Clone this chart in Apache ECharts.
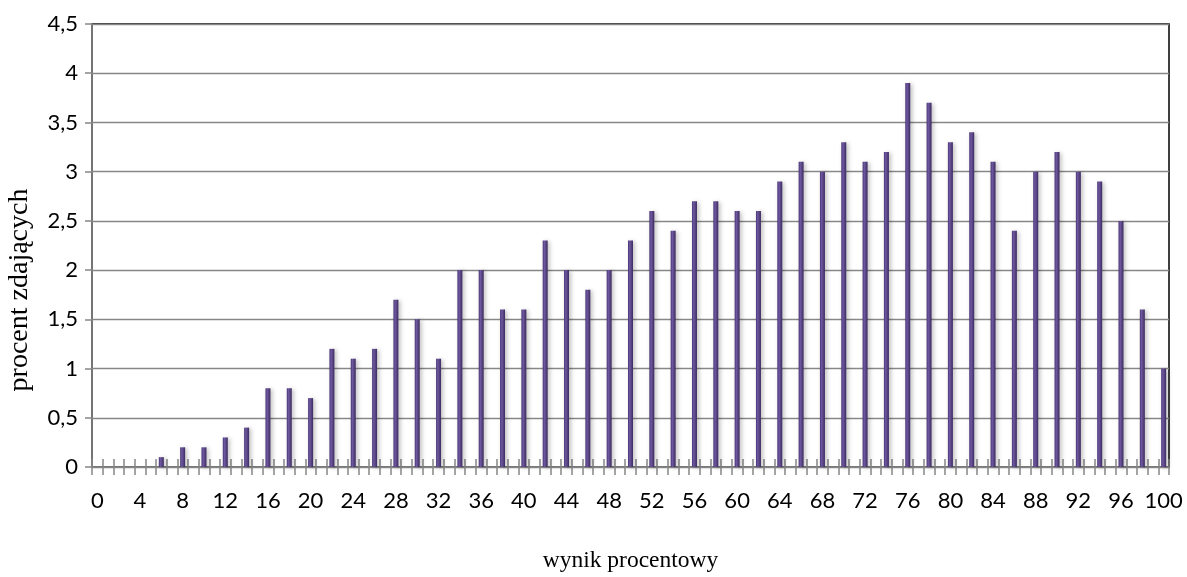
<!DOCTYPE html>
<html>
<head>
<meta charset="utf-8">
<script src="https://cdn.jsdelivr.net/npm/echarts@6/dist/echarts.min.js"></script>
<style>
html,body{margin:0;padding:0;background:#fff;}
#chart{width:1187px;height:577px;}
</style>
</head>
<body>
<div id="chart"></div>
<script>
// categories: percentage score 0..100
const categories = [];
for (let i = 0; i <= 100; i++) categories.push(String(i));

// values (only even scores have bars)
const evenScores = [0,2,4,6,8,10,12,14,16,18,20,22,24,26,28,30,32,34,36,38,40,42,44,46,48,50,52,54,56,58,60,62,64,66,68,70,72,74,76,78,80,82,84,86,88,90,92,94,96,98,100];
const evenValues = [0,0,0,0.1,0.2,0.2,0.3,0.4,0.8,0.8,0.7,1.2,1.1,1.2,1.7,1.5,1.1,2.0,2.0,1.6,1.6,2.3,2.0,1.8,2.0,2.3,2.6,2.4,2.7,2.7,2.6,2.6,2.9,3.1,3.0,3.3,3.1,3.2,3.9,3.7,3.3,3.4,3.1,2.4,3.0,3.2,3.0,2.9,2.5,1.6,1.0];

const yTicks = [0,0.5,1,1.5,2,2.5,3,3.5,4,4.5];
const xTitle = 'wynik procentowy';
const yTitle = 'procent zdających';

const seriesValues = categories.map(c => {
  const idx = evenScores.indexOf(Number(c));
  return idx >= 0 && evenValues[idx] > 0 ? evenValues[idx] : null;
});

const chart = echarts.init(document.getElementById('chart'));
const axisGray = '#878787';
chart.setOption({
  animation: false,
  grid: {
    left: 92, right: 18, top: 24, bottom: 110,
    outerBoundsMode: 'none',
    containLabel: false,
    show: true, borderColor: '#000', borderWidth: 1.5, backgroundColor: 'transparent'
  },
  graphic: [{
    type: 'text',
    x: 20, y: 290,
    rotation: Math.PI / 2,
    style: {
      text: yTitle,
      fill: '#000',
      font: '28px "Liberation Serif", "DejaVu Serif", serif',
      align: 'center',
      verticalAlign: 'middle'
    }
  }],
  xAxis: [{
    type: 'category',
    data: categories,
    boundaryGap: true,
    axisLine: { lineStyle: { color: axisGray, width: 1.5 } },
    axisTick: { show: true, interval: 0, length: 8, inside: false, lineStyle: { color: axisGray, width: 1.5 } },
    axisLabel: {
      interval: 3, margin: 23, color: '#000',
      fontFamily: 'Lato, "Open Sans", sans-serif', fontSize: 22
    },
    name: xTitle,
    nameLocation: 'middle',
    nameGap: 82,
    nameTextStyle: { fontFamily: '"Liberation Serif", "DejaVu Serif", serif', fontSize: 23.5, color: '#000' }
  }, {
    type: 'category',
    data: categories,
    position: 'bottom',
    boundaryGap: true,
    axisLine: { show: false },
    axisTick: { show: true, interval: 0, length: 8, inside: true, lineStyle: { color: axisGray, width: 1.5 } },
    axisLabel: { show: false }
  }],
  yAxis: {
    type: 'value',
    min: 0, max: 4.5, interval: 0.5,
    axisLine: { show: true, lineStyle: { color: axisGray, width: 1.5 } },
    axisTick: { show: true, length: 7, lineStyle: { color: axisGray, width: 1.5 } },
    splitLine: { show: true, lineStyle: { color: axisGray, width: 1.3 } },
    axisLabel: {
      margin: 14, color: '#000',
      fontFamily: 'Lato, "Open Sans", sans-serif', fontSize: 22,
      formatter: v => String(v).replace('.', ',')
    }
  },
  series: [{
    type: 'bar',
    xAxisIndex: 0,
    data: seriesValues,
    barWidth: 5,
    itemStyle: {
      color: new echarts.graphic.LinearGradient(0, 0, 1, 0, [
        { offset: 0, color: '#4a3573' },
        { offset: 0.35, color: '#6e58a0' },
        { offset: 1, color: '#3d2b5f' }
      ]),
      shadowBlur: 4,
      shadowColor: 'rgba(0,0,0,0.25)',
      shadowOffsetX: 2,
      shadowOffsetY: 1
    }
  }]
});
</script>
</body>
</html>
